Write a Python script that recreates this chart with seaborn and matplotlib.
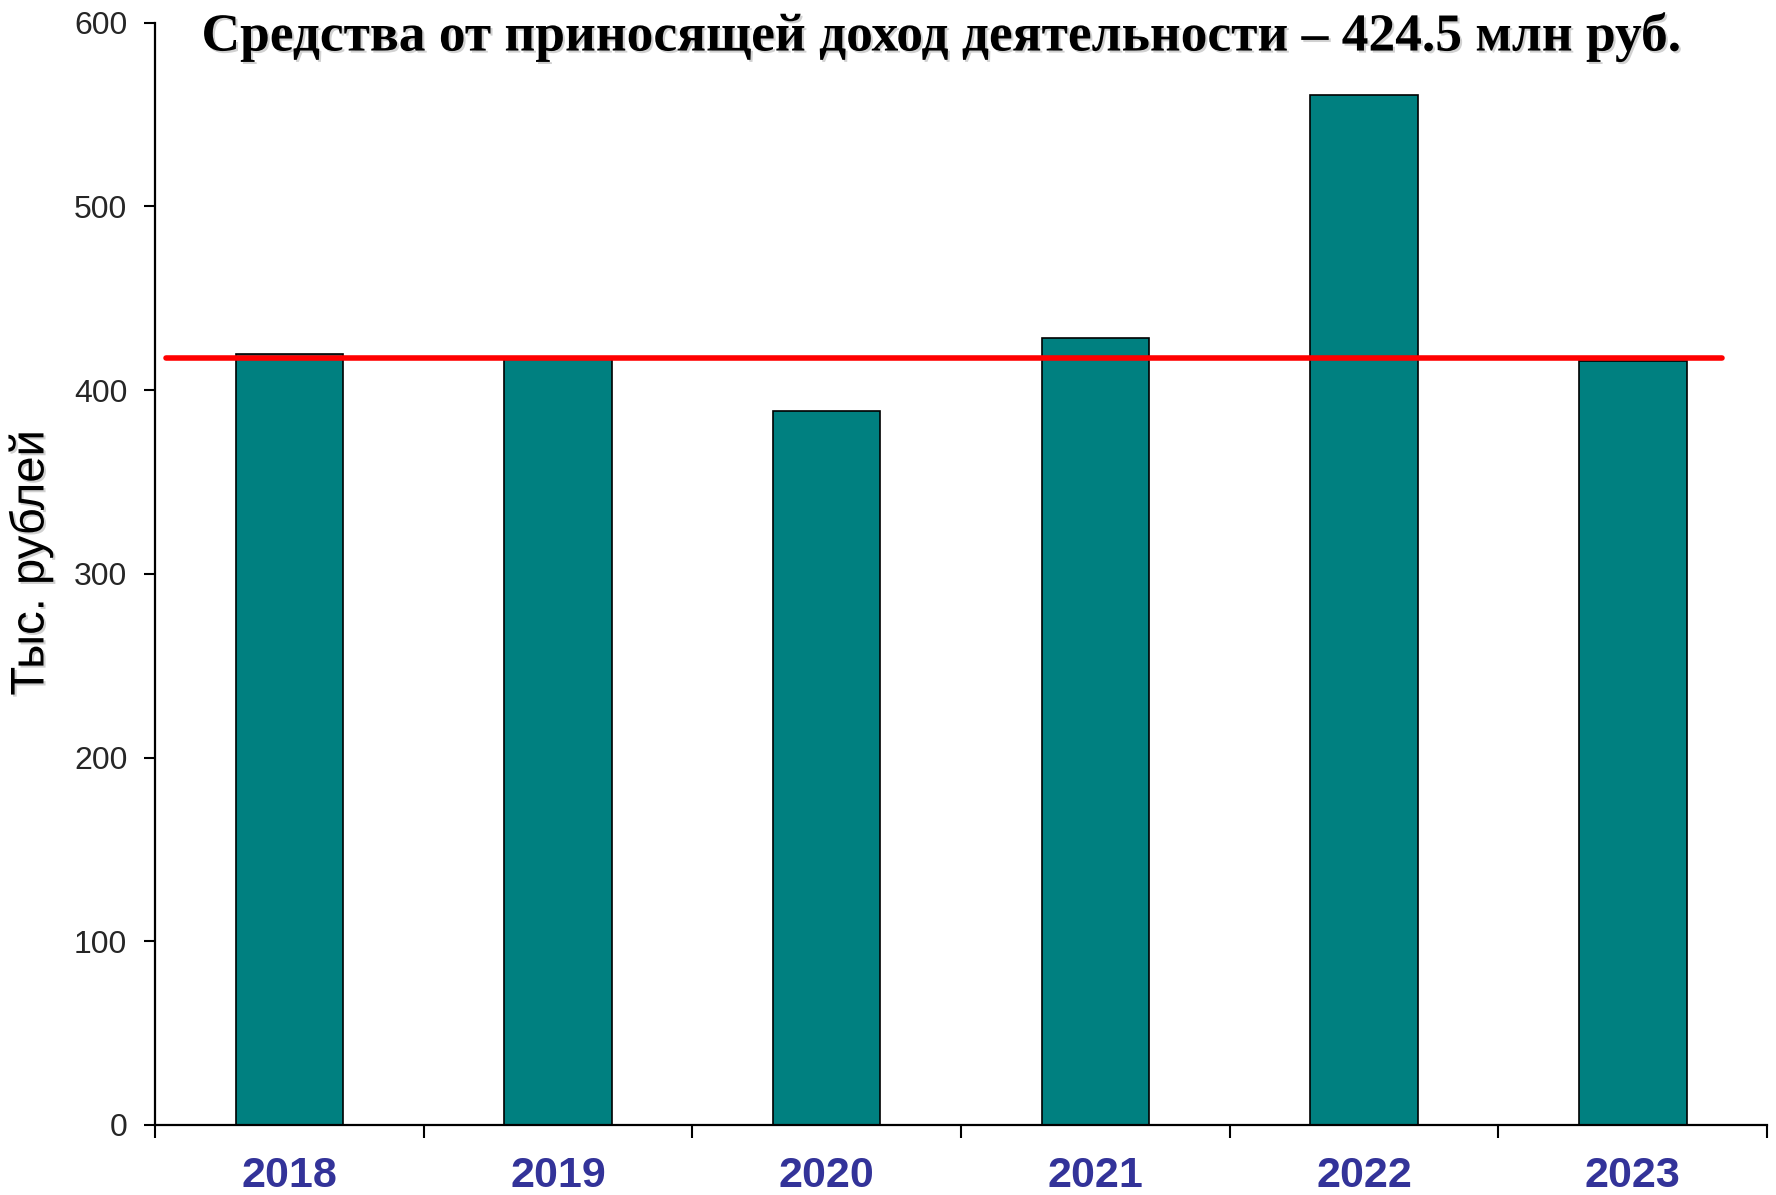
import matplotlib
matplotlib.use("Agg")
import matplotlib.pyplot as plt
import matplotlib.patheffects as pe
import seaborn as sns
import numpy as np

# ==============================
# DATA
# ==============================

years = ["2018", "2019", "2020", "2021", "2022", "2023"]
values = [419.5, 417.0, 388.5, 428.5, 560.5, 416.0]
ref_level = 417.5

title = "Средства от приносящей доход деятельности – 424.5 млн руб."
ylabel = "Тыс. рублей"

# ==============================
# STYLE
# ==============================

sns.set_style("ticks")
plt.rcParams['font.family'] = ['Liberation Sans', 'DejaVu Sans']

fig = plt.figure(figsize=(17.76, 11.95), dpi=100)
ax = fig.add_axes([0.0873, 0.0586, 0.9077, 0.9224])

sns.barplot(x=years, y=values, color="#008080", saturation=1,
            width=0.4, edgecolor="black", linewidth=1.2, ax=ax)

ax.axhline(ref_level, xmin=0.007, xmax=0.972, color="#ff0000", lw=4, zorder=5)

ax.set_xlim(-0.5, 5.5)
ax.set_ylim(0, 600)
ax.set_yticks(np.arange(0, 601, 100))

# category boundaries get the tick marks, labels sit in the middle
ax.set_xticks(np.arange(-0.5, 6, 1), minor=True)
ax.tick_params(axis="x", which="major", length=0, pad=22)
ax.tick_params(axis="x", which="minor", length=9, width=1.5, color="black", direction="out")
ax.tick_params(axis="y", length=8, width=1.5, color="black", direction="out", pad=12,
               labelsize=23)

for lab in ax.get_xticklabels():
    lab.set_family(['Liberation Sans Narrow', 'Liberation Sans'])
    lab.set_fontsize(31)
    lab.set_fontweight("bold")
    lab.set_color("#333399")

sns.despine(ax=ax)
for s in ["left", "bottom"]:
    ax.spines[s].set_linewidth(1.6)
    ax.spines[s].set_color("black")

shadow = [pe.SimplePatchShadow(offset=(1.5, -1.5), shadow_rgbFace="#999999", alpha=0.45),
          pe.Normal()]

ax.set_xlabel("")
ax.set_ylabel(ylabel, fontsize=34, color="black", path_effects=shadow)
ax.yaxis.set_label_coords(-0.063, 0.51)

fig.text(0.530, 0.969, title, ha="center", va="center", fontsize=38.5,
         fontweight="bold", color="black", family=["Liberation Serif", "DejaVu Serif"],
         path_effects=shadow)

fig.savefig("out.png", dpi=100)
